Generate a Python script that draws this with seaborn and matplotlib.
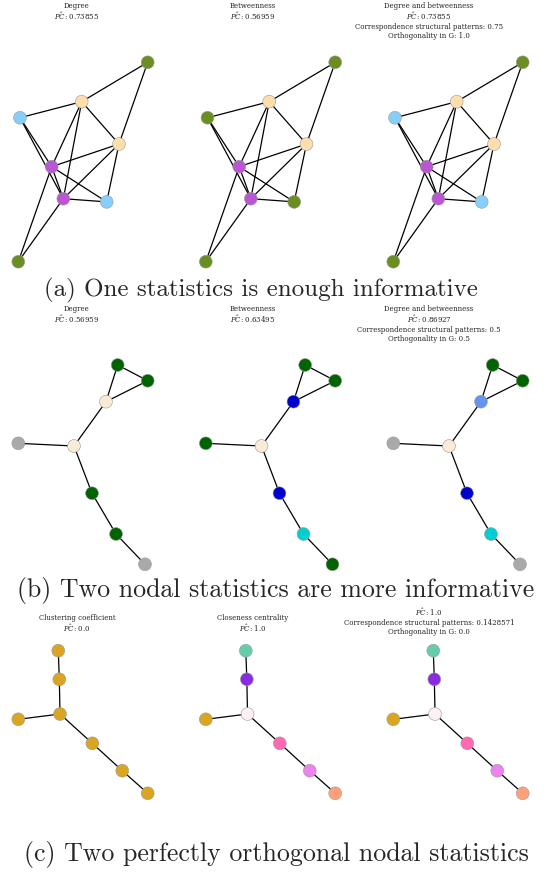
import numpy as np
import pandas as pd
import matplotlib
matplotlib.use("Agg")
import matplotlib.pyplot as plt
import seaborn as sns

sns.set_style("white")
plt.rcParams["mathtext.fontset"] = "dejavuserif"

# graph (a): node layout and edges
a_nodes = ["A", "B", "C", "D", "E", "F", "G", "H"]
a_x = [1.0, -0.02, -0.974, 0.556, -0.484, -0.304, 0.366, -1.0]
a_y = [1.0, 0.605, 0.444, 0.18, -0.047, -0.368, -0.40, -1.0]
a_edges = [("A", "B"), ("A", "D"), ("B", "C"), ("B", "D"), ("B", "E"), ("B", "F"),
           ("C", "E"), ("C", "F"), ("D", "E"), ("D", "F"), ("D", "G"), ("E", "F"),
           ("E", "G"), ("E", "H"), ("F", "G"), ("F", "H")]
a_col_degree = ["olivedrab", "navajowhite", "lightskyblue", "navajowhite",
                "mediumorchid", "mediumorchid", "lightskyblue", "olivedrab"]
a_col_betw = ["olivedrab", "navajowhite", "olivedrab", "navajowhite",
              "mediumorchid", "mediumorchid", "olivedrab", "olivedrab"]
a_col_both = a_col_degree

# graph (b)
b_nodes = ["P1", "P2", "P3", "P4", "P5", "P6", "P7", "P8"]
b_x = [0.536, 1.0, 0.355, -0.139, -1.0, 0.139, 0.51, 0.958]
b_y = [1.0, 0.842, 0.632, 0.187, 0.214, -0.287, -0.696, -1.0]
b_edges = [("P1", "P2"), ("P1", "P3"), ("P2", "P3"), ("P3", "P4"), ("P4", "P5"),
           ("P4", "P6"), ("P6", "P7"), ("P7", "P8")]
b_col_degree = ["darkgreen", "darkgreen", "antiquewhite", "antiquewhite",
                "darkgray", "darkgreen", "darkgreen", "darkgray"]
b_col_betw = ["darkgreen", "darkgreen", "mediumblue", "antiquewhite",
              "darkgreen", "mediumblue", "darkturquoise", "darkgreen"]
b_col_both = ["darkgreen", "darkgreen", "cornflowerblue", "antiquewhite",
              "darkgray", "mediumblue", "darkturquoise", "darkgray"]

# graph (c)
c_nodes = ["Q1", "Q2", "Q3", "Q4", "Q5", "Q6", "Q7"]
c_x = [-0.382, -0.366, -0.355, -1.0, 0.144, 0.607, 1.0]
c_y = [1.0, 0.599, 0.112, 0.038, -0.299, -0.683, -1.0]
c_edges = [("Q1", "Q2"), ("Q2", "Q3"), ("Q3", "Q4"), ("Q3", "Q5"), ("Q5", "Q6"), ("Q6", "Q7")]
c_col_clust = ["goldenrod"] * 7
c_col_close = ["mediumaquamarine", "blueviolet", "lavenderblush", "goldenrod",
               "hotpink", "violet", "lightsalmon"]
c_col_both = c_col_close

a_titles = ["Degree\n$\\hat{PC}$: 0.73855",
            "Betweenness\n$\\hat{PC}$: 0.56959",
            "Degree and betweenness\n$\\hat{PC}$: 0.73855\nCorrespondence structural patterns: 0.75\nOrthogonality in G: 1.0"]
b_titles = ["Degree\n$\\hat{PC}$: 0.56959",
            "Betweenness\n$\\hat{PC}$: 0.63495",
            "Degree and betweenness\n$\\hat{PC}$: 0.86927\nCorrespondence structural patterns: 0.5\nOrthogonality in G: 0.5"]
c_titles = ["Clustering coefficient\n$\\hat{PC}$: 0.0",
            "Closeness centrality\n$\\hat{PC}$: 1.0",
            "$\\hat{PC}$: 1.0\nCorrespondence structural patterns: 0.1428571\nOrthogonality in G: 0.0"]

captions = ["(a) One statistics is enough informative",
            "(b) Two nodal statistics are more informative",
            "(c) Two perfectly orthogonal nodal statistics"]

W, H = 559, 873
fig = plt.figure(figsize=(W / 100, H / 100), dpi=100)

rows = [
    (a_nodes, a_x, a_y, a_edges, [a_col_degree, a_col_betw, a_col_both], a_titles, 62.3, 199.4, [2, 2, 2]),
    (b_nodes, b_x, b_y, b_edges, [b_col_degree, b_col_betw, b_col_both], b_titles, 365.0, 199.3, [305, 305, 305]),
    (c_nodes, c_x, c_y, c_edges, [c_col_clust, c_col_close, c_col_both], c_titles, 650.7, 142.6, [614, 614, 607]),
]
title_cx = [77, 253, 429]
cap_pos = [(261, 290), (276, 590), (276, 855)]
cap_size = [18, 18.6, 18.6]

for r, (nodes, xs, ys, edges, colsets, titles, top, hgt, ttops) in enumerate(rows):
    pos = dict(zip(nodes, zip(xs, ys)))
    for k in range(3):
        left = 18.3 + 187.5 * k
        ax = fig.add_axes([left / W, 1 - (top + hgt) / H, 129.4 / W, hgt / H])
        for u, v in edges:
            ax.plot([pos[u][0], pos[v][0]], [pos[u][1], pos[v][1]],
                    color="black", lw=0.9, zorder=1, clip_on=False)
        df = pd.DataFrame({"x": xs, "y": ys, "node": nodes, "c": colsets[k]})
        pal = {n: c for n, c in zip(nodes, colsets[k])}
        sns.scatterplot(data=df, x="x", y="y", hue="node", palette=pal, s=85,
                        edgecolor="#999999", linewidth=0.4, legend=False,
                        zorder=2, clip_on=False, ax=ax)
        ax.set_xlim(-1, 1)
        ax.set_ylim(-1, 1)
        ax.set_axis_off()
        fig.text(title_cx[k] / W, 1 - ttops[k] / H, titles[k], ha="center", va="top",
                 fontsize=5, family="DejaVu Serif", linespacing=1.12, color="#222222")
    fig.text(cap_pos[r][0] / W, 1 - cap_pos[r][1] / H, captions[r], ha="center",
             va="center", fontsize=cap_size[r], family="cmr10")

fig.savefig("out.png", dpi=100)
